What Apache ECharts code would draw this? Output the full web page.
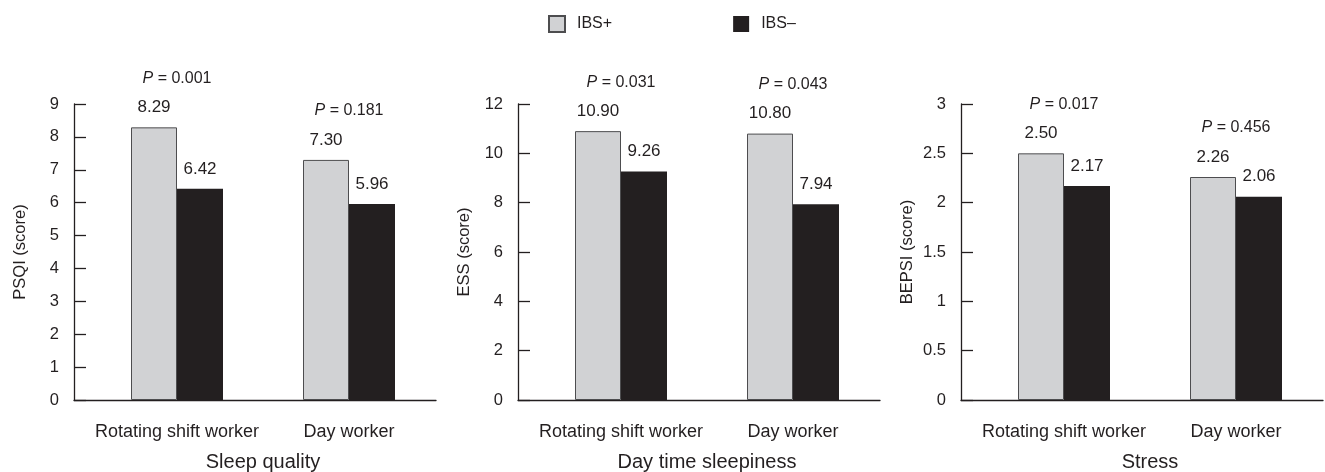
<!DOCTYPE html>
<html>
<head>
<meta charset="utf-8">
<script src="https://cdn.jsdelivr.net/npm/echarts@6/dist/echarts.min.js"></script>
<style>
html, body { margin: 0; padding: 0; background: #fff; }
#chart { width: 1325px; height: 472px; }
</style>
</head>
<body>
<div id="chart"></div>
<script>
// categories and values
const cats = ['Rotating shift worker', 'Day worker']
const groupNames = ['IBS+', 'IBS\u2013']

const psqiPos = [8.29, 7.30]
const psqiNeg = [6.42, 5.96]
const psqiP = ['0.001', '0.181']

const essPos = [10.90, 10.80]
const essNeg = [9.26, 7.94]
const essP = ['0.031', '0.043']

const bepsiPos = [2.50, 2.26]
const bepsiNeg = [2.17, 2.06]
const bepsiP = ['0.017', '0.456']

const panels = [
  { yName: 'PSQI (score)', title: 'Sleep quality', max: 9, step: 1, pos: psqiPos, neg: psqiNeg, p: psqiP, left: 74 },
  { yName: 'ESS (score)', title: 'Day time sleepiness', max: 12, step: 2, pos: essPos, neg: essNeg, p: essP, left: 518 },
  { yName: 'BEPSI (score)', title: 'Stress', max: 3, step: 0.5, pos: bepsiPos, neg: bepsiNeg, p: bepsiP, left: 961 }
]

const FONT = "'Liberation Sans', Arial, sans-serif"
const INK = '#231f20'
const GRAY = '#d1d2d4'

const grid = []
const xAxis = []
const yAxis = []
const series = []

panels.forEach((pn, i) => {
  // frame grid (axis lines, y ticks) and bar grid (shifted a bit right)
  grid.push({ left: pn.left, width: 362, top: 104, height: 296, outerBoundsMode: 'none' })
  grid.push({ left: pn.left + 17, width: 344, top: 104, height: 296, outerBoundsMode: 'none' })
  const ga = i * 2
  const gb = i * 2 + 1

  xAxis.push({
    gridIndex: ga,
    type: 'category',
    data: cats,
    axisLine: { lineStyle: { color: INK, width: 1.3 } },
    axisTick: { show: false },
    axisLabel: { show: false }
  })
  xAxis.push({
    gridIndex: gb,
    type: 'category',
    data: cats,
    axisLine: { show: false },
    axisTick: { show: false },
    axisLabel: { color: INK, fontSize: 18, fontFamily: FONT, margin: 23, interval: 0 },
    name: pn.title,
    nameLocation: 'middle',
    nameGap: 52,
    nameTextStyle: { color: INK, fontSize: 20, fontFamily: FONT }
  })
  yAxis.push({
    gridIndex: ga,
    type: 'value',
    min: 0,
    max: pn.max,
    interval: pn.step,
    axisLine: { show: true, lineStyle: { color: INK, width: 1.3 } },
    axisTick: { show: true, inside: true, length: 12, lineStyle: { color: INK, width: 1.3 } },
    axisLabel: { color: INK, fontSize: 16.5, fontFamily: FONT, margin: 15 },
    splitLine: { show: false },
    name: pn.yName,
    nameLocation: 'middle',
    nameGap: 45,
    nameTextStyle: { color: INK, fontSize: 16.5, fontFamily: FONT }
  })
  yAxis.push({
    gridIndex: gb,
    type: 'value',
    min: 0,
    max: pn.max,
    show: false
  })

  const pv = pn.p
  series.push({
    name: groupNames[0],
    type: 'bar',
    xAxisIndex: gb,
    yAxisIndex: gb,
    data: pn.pos,
    barWidth: 46,
    barGap: '0%',
    itemStyle: { color: GRAY, borderColor: '#4d4d4f', borderWidth: 1 },
    label: {
      show: true,
      position: 'top',
      distance: 10,
      color: INK,
      fontFamily: FONT,
      formatter: (p) => '{pi|P}{p| = ' + pv[p.dataIndex] + '}\n{v|' + p.value.toFixed(2) + '}',
      rich: {
        pi: { fontStyle: 'italic', fontSize: 16, fontFamily: FONT, color: INK, lineHeight: 38, padding: [0, 0, 0, 46] },
        p: { fontSize: 16, fontFamily: FONT, color: INK, lineHeight: 38 },
        v: { fontSize: 17, fontFamily: FONT, color: INK, lineHeight: 20 }
      }
    }
  })
  series.push({
    name: groupNames[1],
    type: 'bar',
    xAxisIndex: gb,
    yAxisIndex: gb,
    data: pn.neg,
    barWidth: 46,
    barGap: '0%',
    itemStyle: { color: INK },
    label: {
      show: true,
      position: 'top',
      distance: 10,
      color: INK,
      fontSize: 17,
      fontFamily: FONT,
      lineHeight: 20,
      formatter: (p) => p.value.toFixed(2)
    }
  })
})

const myChart = echarts.init(document.getElementById('chart'))
const option = {
  animation: false,
  backgroundColor: '#fff',
  legend: {
    data: groupNames,
    left: 548,
    top: 15,
    padding: 0,
    icon: 'rect',
    itemWidth: 16,
    itemHeight: 16,
    itemGap: 121,
    textStyle: { color: INK, fontSize: 16, fontFamily: FONT, padding: [0, 0, 0, 7] }
  },
  grid: grid,
  xAxis: xAxis,
  yAxis: yAxis,
  series: series
}
myChart.setOption(option)
</script>
</body>
</html>
